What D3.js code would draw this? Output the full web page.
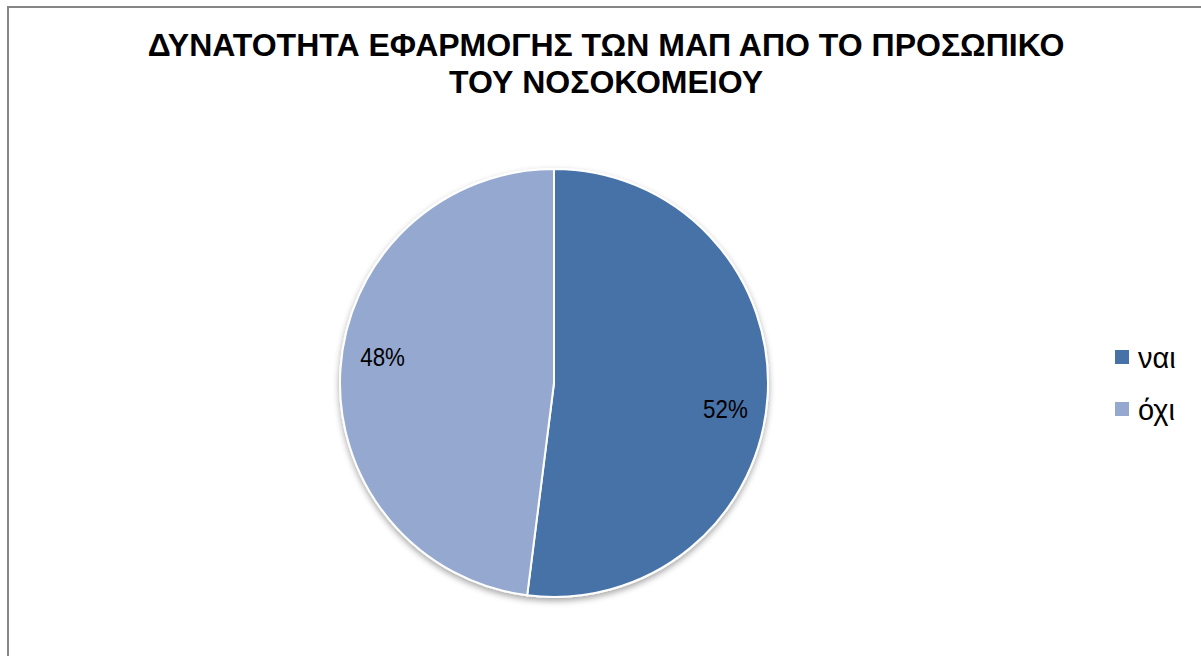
<!DOCTYPE html>
<html>
<head>
<meta charset="utf-8">
<script src="https://cdn.jsdelivr.net/npm/d3@7"></script>
<style>
  html, body { margin: 0; padding: 0; background: #fff; }
  svg { display: block; }
</style>
</head>
<body>
<svg id="chart" width="1201" height="656"></svg>
<script>
// Survey answers and their shares (%)
const categories = ["ναι", "όχι"];
const values = [52, 48];
const titleLines = ["ΔΥΝΑΤΟΤΗΤΑ ΕΦΑΡΜΟΓΗΣ ΤΩΝ ΜΑΠ ΑΠΟ ΤΟ ΠΡΟΣΩΠΙΚΟ", "ΤΟΥ ΝΟΣΟΚΟΜΕΙΟΥ"];
const colors = ["#4672A8", "#95A9D0"];

const svg = d3.select("#chart");
const W = 1201, H = 656;

// Chart frame
svg.append("rect")
  .attr("x", 8).attr("y", 7)
  .attr("width", W + 10).attr("height", H + 10)
  .attr("fill", "#fff")
  .attr("stroke", "#868686")
  .attr("stroke-width", 2);

// Title
const title = svg.append("text")
  .attr("text-anchor", "middle")
  .attr("font-family", "'Liberation Sans', Arial, sans-serif")
  .attr("font-weight", "bold")
  .attr("font-size", 32)
  .attr("fill", "#000");
titleLines.forEach((t, i) => {
  title.append("tspan").attr("x", 606).attr("y", 56 + i * 37).text(t);
});

// Soft shadow beneath the pie
const defs = svg.append("defs");
const f = defs.append("filter").attr("id", "shadow")
  .attr("x", "-20%").attr("y", "-20%").attr("width", "140%").attr("height", "140%");
f.append("feDropShadow").attr("dx", 0).attr("dy", 3).attr("stdDeviation", 3)
  .attr("flood-color", "#000").attr("flood-opacity", 0.35);

const cx = 554, cy = 383, r = 214;
const pie = d3.pie().sort(null).value(d => d)(values);
const arc = d3.arc().innerRadius(0).outerRadius(r);
const color = d3.scaleOrdinal().domain(categories).range(colors);

const g = svg.append("g").attr("transform", `translate(${cx},${cy})`);
g.append("g").attr("filter", "url(#shadow)")
  .selectAll("path").data(pie).join("path")
  .attr("d", arc)
  .attr("fill", (d, i) => color(categories[i]))
  .attr("stroke", "#fff")
  .attr("stroke-width", 2);

// Percentage labels inside the slices
const labelR = r * 0.81;
const shift = 5 * Math.PI / 180;
g.selectAll("text.pct").data(pie).join("text")
  .attr("class", "pct")
  .attr("transform", d => {
    const a = (d.startAngle + d.endAngle) / 2 + shift;
    const x = labelR * Math.sin(a), y = -labelR * Math.cos(a);
    return `translate(${x},${y}) scale(0.86,1)`;
  })
  .attr("text-anchor", "middle")
  .attr("dy", "0.36em")
  .attr("font-family", "'Liberation Sans', Arial, sans-serif")
  .attr("font-size", 26)
  .attr("fill", "#000")
  .text(d => d.data + "%");

// Legend
const leg = svg.append("g").attr("transform", "translate(1115,350)");
const item = leg.selectAll("g").data(categories).join("g")
  .attr("transform", (d, i) => `translate(0,${i * 52})`);
item.append("rect")
  .attr("width", 14).attr("height", 14)
  .attr("fill", d => color(d));
item.append("text")
  .attr("x", 23).attr("y", 18)
  .attr("font-family", "'Liberation Sans', Arial, sans-serif")
  .attr("font-size", 29)
  .attr("fill", "#000")
  .text(d => d);
</script>
</body>
</html>
